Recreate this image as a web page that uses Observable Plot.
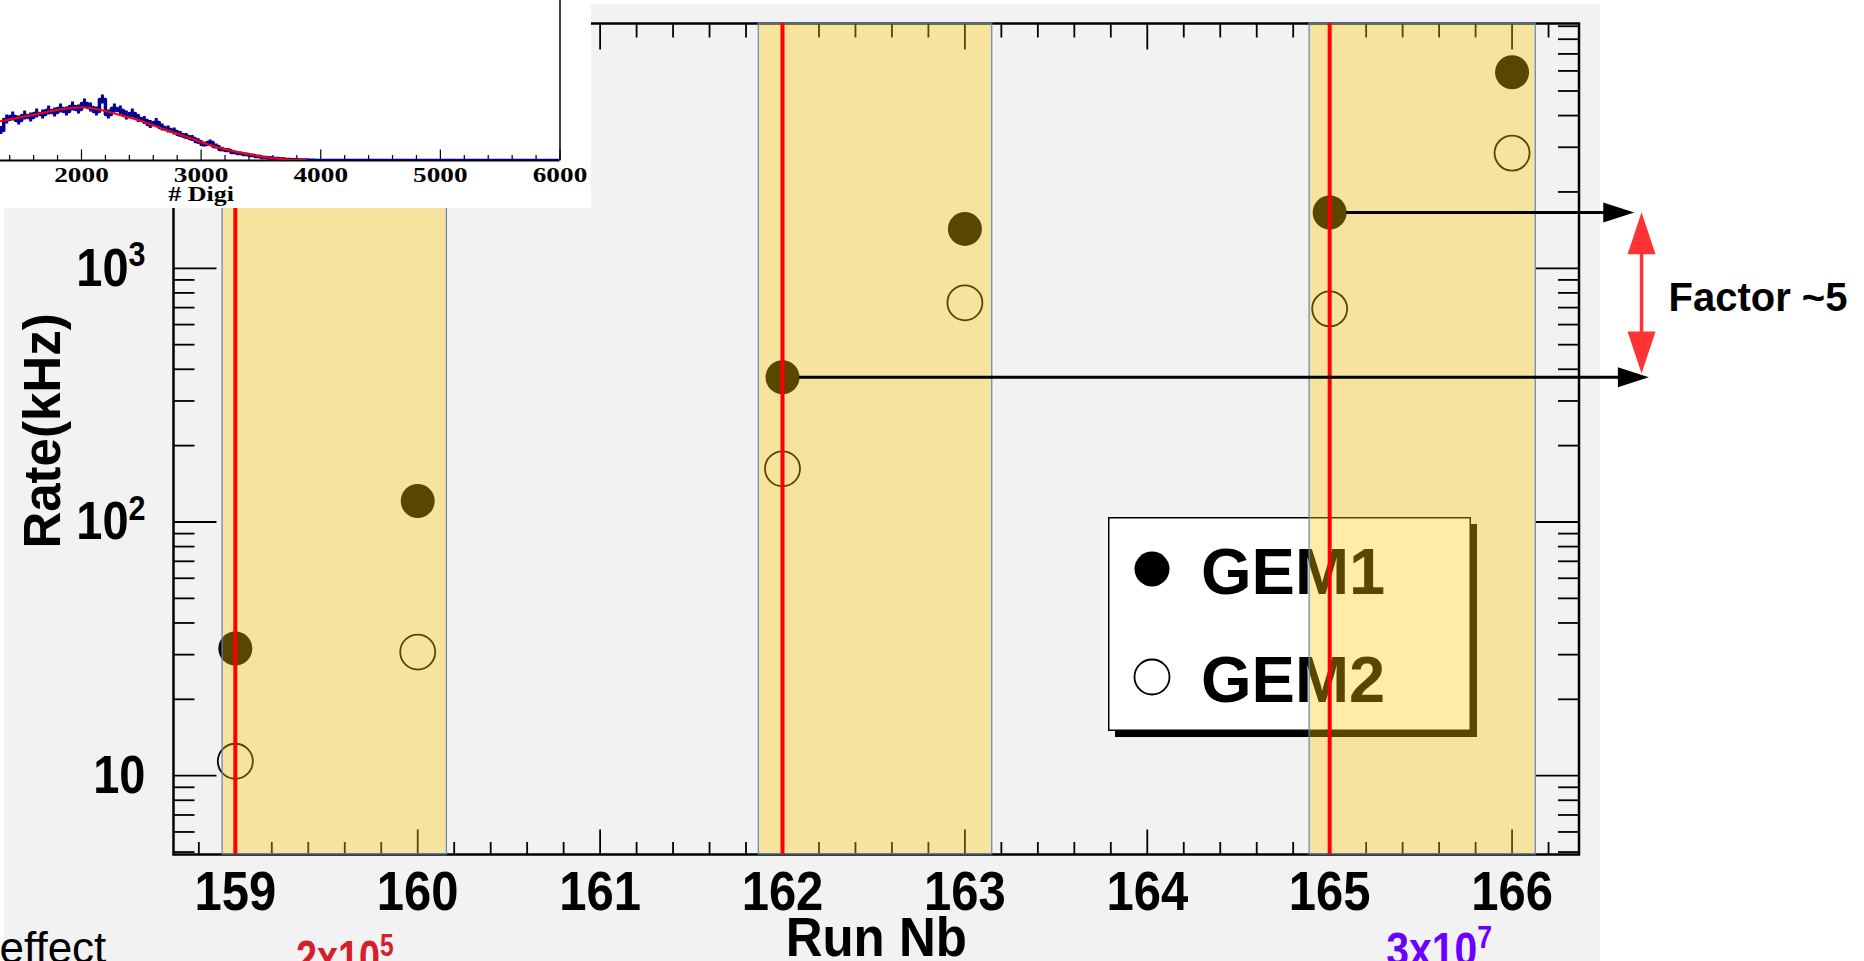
<!DOCTYPE html>
<html><head><meta charset="utf-8">
<script src="https://cdn.jsdelivr.net/npm/d3@7"></script>
<script src="https://cdn.jsdelivr.net/npm/@observablehq/plot@0.6"></script>
<style>
html,body{margin:0;padding:0;background:#fff;width:1864px;height:961px;overflow:hidden;position:relative;font-family:"Liberation Sans",Arial,sans-serif;}
#panel{position:absolute;left:4px;top:4px;width:1596px;height:957px;background:#f2f2f2;}
#legend{position:absolute;left:0;top:0;}
#main{position:absolute;left:0;top:0;}
#inset{position:absolute;left:0;top:0;width:591px;height:208px;background:#fff;overflow:hidden;}
</style></head><body>
<div id="panel"></div>
<svg id="legend" width="1864" height="961"></svg>
<div id="main"></div>
<div id="inset"></div>
<script>
// ---------------- data (main chart) ----------------
const runs = [159, 160, 162, 163, 165, 166];
const gem1Rate = [31.7, 121, 372, 1430, 1660, 5930];
const gem2Rate = [11.4, 30.7, 162, 731, 692, 2845];
const seriesNames = ["GEM1", "GEM2"];
const bandStart = [158.93, 161.87, 164.89];
const bandEnd = [160.16, 163.15, 166.13];
const beamRuns = [159, 162, 165];
const xTickLabels = [159, 160, 161, 162, 163, 164, 165, 166];
const yTickValues = [10, 100, 1000];
const yTickLabels = ["10", "10^2", "10^3"];
const arrowFrom = [165, 162];
const arrowLevel = [1660, 372];
const arrowTo = [166.67, 166.75];
const factorX = [166.71];
const factorTop = [1663];
const factorBottom = [385];
const factorText = ["Factor ~5"];
const intensityX = [159.6, 165.6];
const intensityLabels = ["2x10^5", "3x10^7"];
const xTitle = ["Run Nb"];
const yTitle = ["Rate(kHz)"];
const sideText = ["effect"];

// ---------------- data (inset histogram) ----------------
const digiBin = [1300,1350,1400,1450,1500,1550,1600,1650,1700,1750,1800,1850,1900,1950,2000,2050,2100,2150,2200,2250,2300,2350,2400,2450,2500,2550,2600,2650,2700,2750,2800,2850,2900,2950,3000,3050,3100,3150,3200,3250,3300,3350,3400,3450,3500,3550,3600,3650,3700,3750,3800,3850,3900,3950,4000,6000];
const digiCount = [300,410,440,400,450,430,470,460,500,480,520,490,540,510,570,530,490,610,460,520,500,450,470,420,400,360,380,330,310,290,260,240,220,190,160,180,140,110,100,80,70,60,50,40,30,25,20,15,10,8,5,4,2,1,0,0];
const digiErr = [40,45,45,45,45,45,45,45,45,45,45,45,45,45,45,45,45,45,45,45,45,45,45,40,40,40,40,35,35,35,30,30,30,28,25,25,25,22,20,18,16,15,14,12,11,10,9,8,6,5,4,4,3,2,0,0];
const fitX = [1323,1480,1643,1803,2001,2155,2283,2443,2603,2763,2923,3083,3243,3403,3563,3723,3883];
const fitY = [393,430,467,507,533,507,467,417,350,283,217,150,100,60,27,10,2];
const digiTickLabels = [2000, 3000, 4000, 5000, 6000];
const digiTitle = ["# Digi"];

// ---------------- helpers ----------------
const SVGNS = "http://www.w3.org/2000/svg";
const seg = (dx, dy) => ({draw(c) { c.moveTo(0, 0); c.lineTo(dx, dy); }});
const tri = (ax, ay, bx, by) => ({draw(c) { c.moveTo(0, 0); c.lineTo(ax, ay); c.lineTo(bx, by); c.closePath(); }});
const textsOf = (svg, list) => [...svg.querySelectorAll("text")].filter(t => list.includes(t.textContent));
function stretch(svg, list, sx, sy) {
  textsOf(svg, list).forEach(t => {
    const tr = t.getAttribute("transform") || "";
    t.setAttribute("transform", `${tr} scale(${sx},${sy})`);
  });
}
function supify(svg, list) {
  textsOf(svg, list).forEach(t => {
    const s = t.textContent, k = s.indexOf("^");
    if (k < 0) return;
    t.textContent = s.slice(0, k);
    const ts = document.createElementNS(SVGNS, "tspan");
    ts.setAttribute("dy", "-0.55em");
    ts.setAttribute("style", "font-size:65%");
    ts.textContent = s.slice(k + 1);
    t.appendChild(ts);
  });
}

// ---------------- main chart ----------------
const W = 1864, H = 961;
const fL = 173, fR = 1578.5, fT = 23, fB = 854;
const xDomain = [158.661, 166.367], yDomain = [4.89, 9226];

const xAll = d3.range(158.8, 166.3, 0.2).map(v => Math.round(v * 5) / 5).filter(v => v > xDomain[0] && v < xDomain[1]);
const xMinor = xAll.filter(v => !Number.isInteger(v));
const yMinor = [];
for (const dec of [1, 10, 100, 1000]) for (let k = 2; k <= 9; k++) {
  const v = k * dec; if (v > yDomain[0] && v < yDomain[1]) yMinor.push(v);
}

const pts1 = runs.map((r, i) => ({x: r, y: gem1Rate[i]}));
const pts2 = runs.map((r, i) => ({x: r, y: gem2Rate[i]}));
const bands = bandStart.map((s, i) => ({x1: s, x2: bandEnd[i]}));
const arrows = arrowFrom.map((x, i) => ({x1: x, x2: arrowTo[i], y: arrowLevel[i]}));
const factor = factorX.map((x, i) => ({x, y1: factorTop[i], y2: factorBottom[i]}));

const tickStyle = {stroke: "#000", strokeWidth: 1.8, fill: "none"};
const bold = {fontWeight: "bold", fill: "#000"};

const main = Plot.plot({
  width: W, height: H,
  marginLeft: fL, marginRight: W - fR, marginTop: fT, marginBottom: H - fB,
  x: {domain: xDomain, axis: null},
  y: {type: "log", domain: yDomain, axis: null},
  style: {background: "transparent", fontFamily: '"Liberation Sans", Arial, sans-serif'},
  marks: [
    // ticks (ROOT style, pointing inward)
    Plot.dot(xTickLabels, {x: d => d, frameAnchor: "bottom", symbol: seg(0, -25), ...tickStyle}),
    Plot.dot(xMinor, {x: d => d, frameAnchor: "bottom", symbol: seg(0, -12.5), ...tickStyle}),
    Plot.dot(xTickLabels, {x: d => d, frameAnchor: "top", symbol: seg(0, 26), ...tickStyle}),
    Plot.dot(xMinor, {x: d => d, frameAnchor: "top", symbol: seg(0, 14), ...tickStyle}),
    Plot.dot(yTickValues, {y: d => d, frameAnchor: "left", symbol: seg(43, 0), ...tickStyle}),
    Plot.dot(yMinor, {y: d => d, frameAnchor: "left", symbol: seg(21, 0), ...tickStyle}),
    Plot.dot(yTickValues, {y: d => d, frameAnchor: "right", symbol: seg(-43, 0), ...tickStyle}),
    Plot.dot(yMinor, {y: d => d, frameAnchor: "right", symbol: seg(-21, 0), ...tickStyle}),
    Plot.frame({stroke: "#000", strokeWidth: 2.5}),
    // data points
    Plot.dot(pts1, {x: "x", y: "y", r: 17, fill: "#000", stroke: "none"}),
    Plot.dot(pts2, {x: "x", y: "y", r: 17.5, fill: "none", stroke: "#000", strokeWidth: 1.8}),
    // highlighted run ranges
    Plot.rect(bands, {x1: "x1", x2: "x2", fill: "#ffc800", fillOpacity: 0.35, stroke: "#5b84c4", strokeWidth: 1.2}),
    Plot.ruleX(beamRuns, {x: d => d, stroke: "#ff0000", strokeWidth: 4}),
    // arrows
    Plot.ruleY(arrows, {y: "y", x1: "x1", x2: "x2", stroke: "#000", strokeWidth: 3, insetLeft: 17, insetRight: 25}),
    Plot.dot(arrows, {x: "x2", y: "y", symbol: tri(-31, -10, -31, 10), fill: "#000", stroke: "none"}),
    Plot.ruleX(factor, {x: "x", y1: "y1", y2: "y2", stroke: "#ff3333", strokeWidth: 3.5, insetTop: 36, insetBottom: 36}),
    Plot.dot(factor, {x: "x", y: "y1", symbol: tri(-14, 42, 14, 42), fill: "#ff3333", stroke: "none"}),
    Plot.dot(factor, {x: "x", y: "y2", symbol: tri(-14, -42, 14, -42), fill: "#ff3333", stroke: "none"}),
    Plot.text(factorText, {text: d => d, frameAnchor: "top-right", dx: 89.5, dy: 287, textAnchor: "start", lineAnchor: "bottom", fontSize: 40, ...bold}),
    // axis labels
    Plot.text(xTickLabels, {x: d => d, text: d => String(d), frameAnchor: "bottom", dy: 55, lineAnchor: "bottom", fontSize: 49, ...bold}),
    Plot.text(yTickValues, {y: d => d, text: (d, i) => yTickLabels[i], frameAnchor: "left", dx: -28, textAnchor: "end", lineAnchor: "middle", fontSize: 47, ...bold}),
    Plot.text(xTitle, {text: d => d, frameAnchor: "bottom", dy: 101, lineAnchor: "bottom", fontSize: 51, ...bold}),
    Plot.text(yTitle, {text: d => d, frameAnchor: "left", dx: -130, dy: -8, rotate: -90, textAnchor: "middle", lineAnchor: "middle", fontSize: 51, ...bold}),
    // annotations below the axis
    Plot.text([intensityLabels[0]], {x: intensityX[0], text: d => d, frameAnchor: "bottom", dy: 119, lineAnchor: "bottom", fontSize: 42, fontWeight: "bold", fill: "#d4202c"}),
    Plot.text([intensityLabels[1]], {x: intensityX[1], text: d => d, frameAnchor: "bottom", dy: 111, lineAnchor: "bottom", fontSize: 44, fontWeight: "bold", fill: "#6a00ff"}),
    Plot.text(sideText, {text: d => d, frameAnchor: "bottom-left", dx: -174, dy: 108, textAnchor: "start", lineAnchor: "bottom", fontSize: 44, fill: "#000"})
  ]
});
stretch(main, xTickLabels.map(String), 1, 1.15);
stretch(main, yTickLabels, 1, 1.15);
stretch(main, xTitle, 1, 1.08);
stretch(main, [intensityLabels[0]], 0.9, 1.15);
stretch(main, [intensityLabels[1]], 0.93, 1.1);
supify(main, yTickLabels);
supify(main, intensityLabels);
document.getElementById("main").appendChild(main);

// ---------------- legend (under the main svg, so bands tint it) ----------------
const lg = d3.select("#legend");
lg.append("rect").attr("x", 1115).attr("y", 524).attr("width", 362).attr("height", 213).attr("fill", "#000");
lg.append("rect").attr("x", 1108.75).attr("y", 517.75).attr("width", 361.5).attr("height", 212.5)
  .attr("fill", "#fff").attr("stroke", "#000").attr("stroke-width", 1.5);
seriesNames.forEach((name, i) => {
  const cy = 569 + i * 108;
  lg.append("circle").attr("cx", 1152).attr("cy", cy).attr("r", 17.5)
    .attr("fill", i === 0 ? "#000" : "#fff").attr("stroke", "#000").attr("stroke-width", i === 0 ? 0 : 1.8);
  lg.append("text").attr("x", 1201).attr("y", cy + 25).attr("font-size", 65).attr("font-weight", "bold")
    .attr("font-family", '"Liberation Sans", Arial, sans-serif').text(name);
});

// ---------------- inset histogram ----------------
const hist = digiBin.map((x, i) => ({x, y: digiCount[i], e: digiErr[i]}));
const histErr = hist.filter(d => d.e > 0);
const fit = fitX.map((x, i) => ({x, y: fitY[i]}));
const dMajor = digiTickLabels;
const dMinor = d3.range(1400, 6000, 200).filter(v => v % 1000 !== 0);
const inset = Plot.plot({
  width: 591, height: 208,
  marginLeft: 0, marginRight: 31.5, marginTop: 0, marginBottom: 48,
  x: {domain: [1323, 6000], axis: null},
  y: {domain: [0, 1600], axis: null},
  style: {background: "transparent", fontFamily: '"Liberation Serif", "Times New Roman", serif'},
  marks: [
    Plot.ruleX([6000], {stroke: "#000", strokeWidth: 1.5}),
    Plot.ruleY([0], {stroke: "#000", strokeWidth: 2}),
    Plot.dot(dMajor, {x: d => d, frameAnchor: "bottom", symbol: seg(0, -11), stroke: "#000", strokeWidth: 1.2, fill: "none"}),
    Plot.dot(dMinor, {x: d => d, frameAnchor: "bottom", symbol: seg(0, -5.5), stroke: "#000", strokeWidth: 1.2, fill: "none"}),
    Plot.ruleX(histErr, {x: d => d.x + 25, y1: d => d.y - d.e, y2: d => d.y + d.e, stroke: "#000099", strokeWidth: 3, clip: true}),
    Plot.line(hist, {x: "x", y: "y", curve: "step-after", stroke: "#000099", strokeWidth: 3.5, clip: true}),
    Plot.line(fit, {x: "x", y: "y", curve: "monotone-x", stroke: "#ff0000", strokeWidth: 2, clip: true}),
    Plot.text(dMajor, {x: d => d, text: d => String(d), frameAnchor: "bottom", dy: 21, lineAnchor: "bottom", fontSize: 21, fontWeight: "bold", fill: "#000"}),
    Plot.text(digiTitle, {x: 3000, text: d => d, frameAnchor: "bottom", dy: 40, lineAnchor: "bottom", fontSize: 20, fontWeight: "bold", fill: "#000"})
  ]
});
stretch(inset, digiTickLabels.map(String), 1.3, 1);
stretch(inset, digiTitle, 1.3, 1);
document.getElementById("inset").appendChild(inset);
</script>
</body></html>
